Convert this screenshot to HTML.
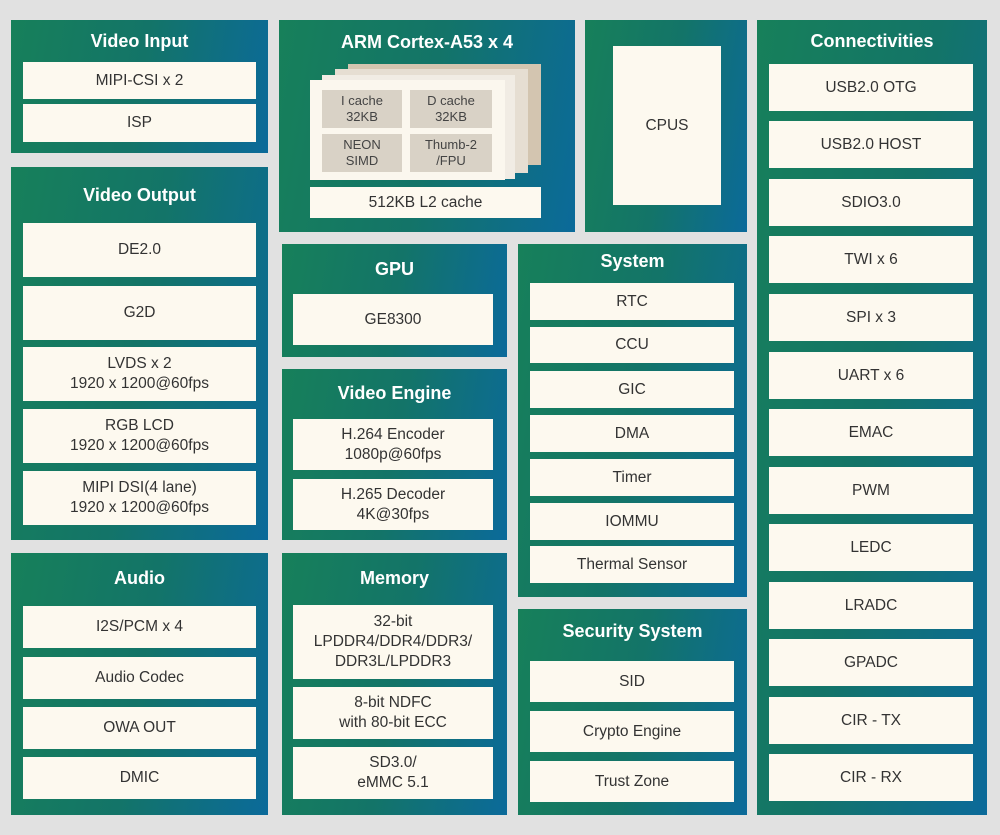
<!DOCTYPE html>
<html><head><meta charset="utf-8"><style>
*{margin:0;padding:0;box-sizing:border-box}
body{width:1000px;height:835px;background:#e1e1e1;position:relative;overflow:hidden;font-family:"Liberation Sans",sans-serif}
.p{position:absolute;background:linear-gradient(100deg,#17805a 0%,#137468 50%,#0b6a9a 100%)}
.t{position:absolute;left:0;right:0;text-align:center;color:#fff;font-weight:bold;font-size:18px}
.b{position:absolute;background:#fdf9ef;color:#333;font-size:15.5px;display:flex;align-items:center;justify-content:center;text-align:center;line-height:20px}
.c{position:absolute;background:#d9d2c6;color:#444;font-size:13px;display:flex;align-items:center;justify-content:center;text-align:center;line-height:16px}
.a{position:absolute}
</style></head><body>
<!-- Video Input -->
<div class="p" style="left:11px;top:20px;width:257px;height:133px"></div>
<div class="t" style="left:11px;width:257px;top:31px">Video Input</div>
<div class="b" style="left:23px;top:62px;width:233px;height:37px">MIPI-CSI x 2</div>
<div class="b" style="left:23px;top:104px;width:233px;height:38px">ISP</div>
<!-- Video Output -->
<div class="p" style="left:11px;top:167px;width:257px;height:373px"></div>
<div class="t" style="left:11px;width:257px;top:185px">Video Output</div>
<div class="b" style="left:23px;top:223px;width:233px;height:54px">DE2.0</div>
<div class="b" style="left:23px;top:286px;width:233px;height:54px">G2D</div>
<div class="b" style="left:23px;top:347px;width:233px;height:54px">LVDS x 2<br>1920 x 1200@60fps</div>
<div class="b" style="left:23px;top:409px;width:233px;height:54px">RGB LCD<br>1920 x 1200@60fps</div>
<div class="b" style="left:23px;top:471px;width:233px;height:54px">MIPI DSI(4 lane)<br>1920 x 1200@60fps</div>
<!-- Audio -->
<div class="p" style="left:11px;top:553px;width:257px;height:262px"></div>
<div class="t" style="left:11px;width:257px;top:568px">Audio</div>
<div class="b" style="left:23px;top:606px;width:233px;height:42px">I2S/PCM x 4</div>
<div class="b" style="left:23px;top:657px;width:233px;height:42px">Audio Codec</div>
<div class="b" style="left:23px;top:707px;width:233px;height:42px">OWA OUT</div>
<div class="b" style="left:23px;top:757px;width:233px;height:42px">DMIC</div>
<!-- ARM -->
<div class="p" style="left:279px;top:20px;width:296px;height:212px"></div>
<div class="t" style="left:279px;width:296px;top:32px">ARM Cortex-A53 x 4</div>
<div class="a" style="left:348px;top:64px;width:193px;height:101px;background:#d3c5b0"></div>
<div class="a" style="left:335px;top:69px;width:193px;height:104px;background:#e6ded2"></div>
<div class="a" style="left:322px;top:75px;width:193px;height:104px;background:#f1ece4"></div>
<div class="a" style="left:310px;top:80px;width:195px;height:100px;background:#fbf7ee"></div>
<div class="c" style="left:322px;top:90px;width:80px;height:38px">I cache<br>32KB</div>
<div class="c" style="left:410px;top:90px;width:82px;height:38px">D cache<br>32KB</div>
<div class="c" style="left:322px;top:134px;width:80px;height:38px">NEON<br>SIMD</div>
<div class="c" style="left:410px;top:134px;width:82px;height:38px">Thumb-2<br>/FPU</div>
<div class="b" style="left:310px;top:187px;width:231px;height:31px">512KB L2 cache</div>
<!-- CPUS -->
<div class="p" style="left:585px;top:20px;width:162px;height:212px"></div>
<div class="b" style="left:613px;top:46px;width:108px;height:159px">CPUS</div>
<!-- GPU -->
<div class="p" style="left:282px;top:244px;width:225px;height:113px"></div>
<div class="t" style="left:282px;width:225px;top:259px">GPU</div>
<div class="b" style="left:293px;top:294px;width:200px;height:51px">GE8300</div>
<!-- Video Engine -->
<div class="p" style="left:282px;top:369px;width:225px;height:171px"></div>
<div class="t" style="left:282px;width:225px;top:383px">Video Engine</div>
<div class="b" style="left:293px;top:419px;width:200px;height:51px">H.264 Encoder<br>1080p@60fps</div>
<div class="b" style="left:293px;top:479px;width:200px;height:51px">H.265 Decoder<br>4K@30fps</div>
<!-- Memory -->
<div class="p" style="left:282px;top:553px;width:225px;height:262px"></div>
<div class="t" style="left:282px;width:225px;top:568px">Memory</div>
<div class="b" style="left:293px;top:605px;width:200px;height:74px">32-bit<br>LPDDR4/DDR4/DDR3/<br>DDR3L/LPDDR3</div>
<div class="b" style="left:293px;top:687px;width:200px;height:52px">8-bit NDFC<br>with 80-bit ECC</div>
<div class="b" style="left:293px;top:747px;width:200px;height:52px">SD3.0/<br>eMMC 5.1</div>
<!-- System -->
<div class="p" style="left:518px;top:244px;width:229px;height:353px"></div>
<div class="t" style="left:518px;width:229px;top:251px">System</div>
<div class="b" style="left:530px;top:283px;width:204px;height:37px">RTC</div>
<div class="b" style="left:530px;top:327px;width:204px;height:36px">CCU</div>
<div class="b" style="left:530px;top:371px;width:204px;height:37px">GIC</div>
<div class="b" style="left:530px;top:415px;width:204px;height:37px">DMA</div>
<div class="b" style="left:530px;top:459px;width:204px;height:37px">Timer</div>
<div class="b" style="left:530px;top:503px;width:204px;height:37px">IOMMU</div>
<div class="b" style="left:530px;top:546px;width:204px;height:37px">Thermal Sensor</div>
<!-- Security -->
<div class="p" style="left:518px;top:609px;width:229px;height:206px"></div>
<div class="t" style="left:518px;width:229px;top:621px">Security System</div>
<div class="b" style="left:530px;top:661px;width:204px;height:41px">SID</div>
<div class="b" style="left:530px;top:711px;width:204px;height:41px">Crypto Engine</div>
<div class="b" style="left:530px;top:761px;width:204px;height:41px">Trust Zone</div>
<!-- Connectivities -->
<div class="p" style="left:757px;top:20px;width:230px;height:795px"></div>
<div class="t" style="left:757px;width:230px;top:31px">Connectivities</div>
<div class="b" style="left:769px;top:64px;width:204px;height:47px">USB2.0 OTG</div>
<div class="b" style="left:769px;top:121px;width:204px;height:47px">USB2.0 HOST</div>
<div class="b" style="left:769px;top:179px;width:204px;height:47px">SDIO3.0</div>
<div class="b" style="left:769px;top:236px;width:204px;height:47px">TWI x 6</div>
<div class="b" style="left:769px;top:294px;width:204px;height:47px">SPI x 3</div>
<div class="b" style="left:769px;top:352px;width:204px;height:47px">UART x 6</div>
<div class="b" style="left:769px;top:409px;width:204px;height:47px">EMAC</div>
<div class="b" style="left:769px;top:467px;width:204px;height:47px">PWM</div>
<div class="b" style="left:769px;top:524px;width:204px;height:47px">LEDC</div>
<div class="b" style="left:769px;top:582px;width:204px;height:47px">LRADC</div>
<div class="b" style="left:769px;top:639px;width:204px;height:47px">GPADC</div>
<div class="b" style="left:769px;top:697px;width:204px;height:47px">CIR - TX</div>
<div class="b" style="left:769px;top:754px;width:204px;height:47px">CIR - RX</div>
</body></html>
